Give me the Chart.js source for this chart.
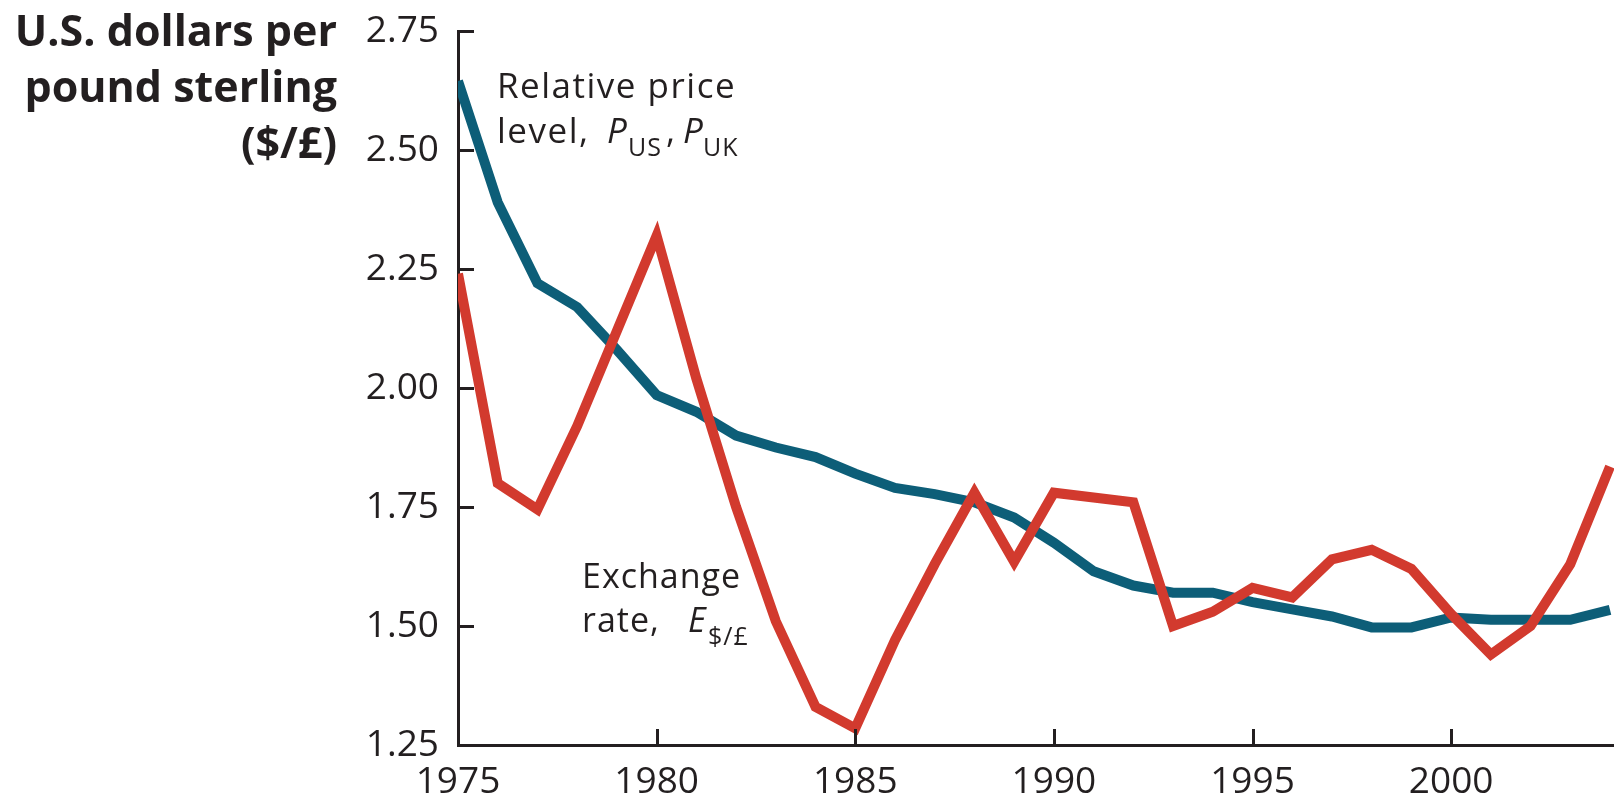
<!DOCTYPE html>
<html><head><meta charset="utf-8">
<script src="https://cdn.jsdelivr.net/npm/chart.js@4"></script>
<style>html,body{margin:0;padding:0;background:#fff;overflow:hidden}canvas{display:block}</style>
</head><body>
<canvas id="c" width="1614" height="799"></canvas>
<script>
const years = [1975,1976,1977,1978,1979,1980,1981,1982,1983,1984,1985,1986,1987,1988,1989,1990,1991,1992,1993,1994,1995,1996,1997,1998,1999,2000,2001,2002,2003,2004];
const exchangeRate = [2.24,1.80,1.745,1.92,2.12,2.32,2.02,1.75,1.51,1.33,1.285,1.47,1.63,1.78,1.635,1.78,1.77,1.76,1.50,1.53,1.58,1.56,1.64,1.66,1.62,1.525,1.44,1.50,1.63,1.835];
const relativePriceLevel = [2.645,2.39,2.22,2.17,2.08,1.985,1.95,1.90,1.875,1.855,1.82,1.79,1.777,1.76,1.728,1.675,1.615,1.585,1.57,1.57,1.55,1.535,1.52,1.497,1.497,1.518,1.513,1.513,1.513,1.534];
const xTickValues = [1975,1980,1985,1990,1995,2000];
const xTickLabels = ['1975','1980','1985','1990','1995','2000'];
const yTickValues = [1.25,1.5,1.75,2.0,2.25,2.5,2.75];
const yTickLabels = ['1.25','1.50','1.75','2.00','2.25','2.50','2.75'];
const yAxisTitle = ['U.S. dollars per','pound sterling','($/£)'];

const INK = '#231f20';
const FONT = "'Open Sans'";

const decor = {
  id: 'decor',
  afterDraw(chart) {
    const ctx = chart.ctx, xs = chart.scales.x, ys = chart.scales.y;
    const a = chart.chartArea;
    ctx.save();
    // inward tick marks
    ctx.fillStyle = INK;
    xTickValues.forEach(v => { const px = Math.round(xs.getPixelForValue(v)); ctx.fillRect(px - 1, a.bottom - 16, 3, 16); });
    yTickValues.forEach(v => { const py = Math.round(ys.getPixelForValue(v)); ctx.fillRect(a.left, py - 1, 16, 3); });
    // axis title
    ctx.textAlign = 'right'; ctx.textBaseline = 'alphabetic';
    ctx.font = "bold 43px " + FONT;
    const tb = [46, 102, 158];
    yAxisTitle.forEach((t, i) => ctx.fillText(t, 337, tb[i]));
    // annotations
    ctx.textAlign = 'left';
    const runs = [
      {t:'Relative price', f:"35px " + FONT, ls:'1.5px', x:497, y:98},
      {t:'level,', f:"35px " + FONT, ls:'1.5px', x:497, y:143},
      {t:'P', f:"italic 35px " + FONT, ls:'0px', x:607, y:143},
      {t:'US', f:"25px " + FONT, ls:'1px', x:628, y:156},
      {t:',', f:"35px " + FONT, ls:'0px', x:666, y:143},
      {t:'P', f:"italic 35px " + FONT, ls:'0px', x:683, y:143},
      {t:'UK', f:"25px " + FONT, ls:'1px', x:703, y:156},
      {t:'Exchange', f:"34px " + FONT, ls:'1px', x:582, y:588},
      {t:'rate,', f:"34px " + FONT, ls:'1px', x:582, y:632},
      {t:'E', f:"italic 34px " + FONT, ls:'0px', x:688, y:632},
      {t:'$/£', f:"25px " + FONT, ls:'1px', x:708, y:645}
    ];
    runs.forEach(r => { ctx.font = r.f; ctx.letterSpacing = r.ls; ctx.fillText(r.t, r.x, r.y); });
    ctx.restore();
  }
};

new Chart(document.getElementById('c'), {
  type: 'line',
  data: {
    datasets: [
      { label: 'Exchange rate', data: years.map((y, i) => ({x: y, y: exchangeRate[i]})),
        borderColor: '#d23a2e', borderWidth: 10, pointRadius: 0, tension: 0, borderJoinStyle: 'miter',
        clip: {left: 0, top: 20, right: 0, bottom: 20} },
      { label: 'Relative price level', data: years.map((y, i) => ({x: y, y: relativePriceLevel[i]})),
        borderColor: '#0d5e78', borderWidth: 10, pointRadius: 0, tension: 0, borderJoinStyle: 'miter',
        clip: {left: 0, top: 20, right: 0, bottom: 20} }
    ]
  },
  options: {
    responsive: false, animation: false, devicePixelRatio: 1,
    layout: { padding: { top: 31, left: 0, right: 0, bottom: 0 } },
    plugins: { legend: { display: false }, tooltip: { enabled: false } },
    scales: {
      x: {
        type: 'linear', min: 1975, max: 2004.1,
        grid: { display: false, drawTicks: false },
        border: { display: true, color: INK, width: 3 },
        afterBuildTicks: s => { s.ticks = xTickValues.map(v => ({value: v})); },
        afterFit: s => { s.height = 54; s.paddingLeft = 0; s.paddingRight = 0; },
        ticks: { padding: 15, color: INK, font: { family: FONT, size: 37 }, maxRotation: 0, minRotation: 0, autoSkip: false,
          callback: (v, i) => xTickLabels[i] }
      },
      y: {
        type: 'linear', min: 1.25, max: 2.75,
        grid: { display: false, drawTicks: false },
        border: { display: true, color: INK, width: 3 },
        afterBuildTicks: s => { s.ticks = yTickValues.map(v => ({value: v})); },
        afterFit: s => { s.width = 458; s.paddingTop = 0; s.paddingBottom = 0; },
        ticks: { padding: 19, color: INK, font: { family: FONT, size: 37 }, autoSkip: false,
          callback: (v, i) => yTickLabels[i] }
      }
    }
  },
  plugins: [decor]
});
</script>
</body></html>
